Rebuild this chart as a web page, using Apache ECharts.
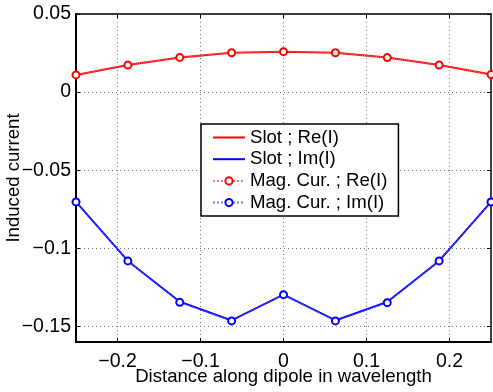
<!DOCTYPE html>
<html>
<head>
<meta charset="utf-8">
<script src="https://cdn.jsdelivr.net/npm/echarts@6/dist/echarts.min.js"></script>
<style>html,body{margin:0;padding:0;background:#fff}#c{width:493px;height:392px}</style>
</head>
<body>
<div id="c"></div>
<script>
var positions = [-0.25, -0.1875, -0.125, -0.0625, 0, 0.0625, 0.125, 0.1875, 0.25];
var slotRe = [0.0110, 0.0173, 0.0222, 0.0252, 0.0259, 0.0252, 0.0221, 0.0173, 0.0112];
var slotIm = [-0.0703, -0.1081, -0.1342, -0.1462, -0.1297, -0.1462, -0.1344, -0.1081, -0.0703];
var magRe = [0.0110, 0.0173, 0.0222, 0.0252, 0.0259, 0.0252, 0.0221, 0.0173, 0.0112];
var magIm = [-0.0703, -0.1081, -0.1346, -0.1465, -0.1297, -0.1465, -0.1348, -0.1081, -0.0703];
var xLabelTicks = [-0.2, -0.1, 0, 0.1, 0.2];
var yTicks = [-0.15, -0.1, -0.05, 0, 0.05];
var seriesNames = ['Slot ; Re(I)', 'Slot ; Im(I)', 'Mag. Cur. ; Re(I)', 'Mag. Cur. ; Im(I)'];
var xTitle = 'Distance along dipole in wavelength';
var yTitle = 'Induced current';

function pairs(xs, ys) { return xs.map(function (x, i) { return [x, ys[i]]; }); }
function fmt(v) { return String(v).replace('-', '\u2212'); }

var FONT = 'Liberation Sans';
var chart = echarts.init(document.getElementById('c'));
var gridLine = { show: true, lineStyle: { color: '#777', width: 1, type: [1, 3] } };
chart.setOption({
  animation: false,
  backgroundColor: '#fff',
  textStyle: { fontFamily: FONT },
  grid: { left: 76, right: 2, top: 14, bottom: 50, containLabel: false, outerBoundsMode: 'none' },
  xAxis: [{
    type: 'value', min: -0.25, max: 0.25, position: 'bottom',
    name: xTitle, nameLocation: 'middle', nameGap: 25, nameMoveOverlap: false,
    nameTextStyle: { fontSize: 18.6, color: '#000', fontFamily: FONT },
    axisLine: { show: true, onZero: false, lineStyle: { color: '#000', width: 2 } },
    axisTick: { show: true, inside: true, length: 4, customValues: xLabelTicks, lineStyle: { color: '#000' } },
    axisLabel: { customValues: xLabelTicks, formatter: fmt, fontSize: 19.5, color: '#000', margin: 10, fontFamily: FONT },
    splitLine: gridLine
  }, {
    type: 'value', min: -0.25, max: 0.25, position: 'top',
    axisLine: { show: true, onZero: false, lineStyle: { color: '#000', width: 1.5 } },
    axisTick: { show: true, inside: true, length: 4, customValues: xLabelTicks, lineStyle: { color: '#000' } },
    axisLabel: { show: false }, splitLine: { show: false }
  }],
  yAxis: [{
    type: 'value', min: -0.16, max: 0.05, position: 'left',
    name: yTitle, nameLocation: 'middle', nameGap: 53, nameRotate: 90, nameMoveOverlap: false,
    nameTextStyle: { fontSize: 18.6, color: '#000', fontFamily: FONT },
    axisLine: { show: true, onZero: false, lineStyle: { color: '#000', width: 2 } },
    axisTick: { show: true, inside: true, length: 4, customValues: yTicks, lineStyle: { color: '#000' } },
    axisLabel: { customValues: yTicks, formatter: fmt, fontSize: 19.5, color: '#000', margin: 5, fontFamily: FONT },
    splitLine: gridLine
  }, {
    type: 'value', min: -0.16, max: 0.05, position: 'right',
    axisLine: { show: true, onZero: false, lineStyle: { color: '#000', width: 1.5 } },
    axisTick: { show: true, inside: true, length: 4, customValues: yTicks, lineStyle: { color: '#000' } },
    axisLabel: { show: false }, splitLine: { show: false }
  }],
  legend: {
    orient: 'vertical', left: 201, top: 124,
    padding: [4, 11, 4, 11],
    itemWidth: 32, itemHeight: 9, itemGap: 2.7,
    borderColor: '#000', borderWidth: 1.5, backgroundColor: '#fff',
    textStyle: { fontSize: 18.6, color: '#000', fontFamily: FONT, lineHeight: 18 },
    data: [
      { name: seriesNames[0], itemStyle: { opacity: 0 } },
      { name: seriesNames[1], itemStyle: { opacity: 0 } },
      { name: seriesNames[2] },
      { name: seriesNames[3] }
    ]
  },
  series: [
    { name: seriesNames[0], type: 'line', data: pairs(positions, slotRe), symbol: 'none', showSymbol: false,
      lineStyle: { color: '#ff0000', width: 2 }, itemStyle: { color: '#ff0000' } },
    { name: seriesNames[1], type: 'line', data: pairs(positions, slotIm), symbol: 'none', showSymbol: false,
      lineStyle: { color: '#0000ff', width: 2 }, itemStyle: { color: '#0000ff' } },
    { name: seriesNames[2], type: 'line', data: pairs(positions, magRe), symbol: 'emptyCircle', symbolSize: 7,
      lineStyle: { color: '#ff7777', width: 1, type: 'dotted' },
      itemStyle: { color: '#ff0000', borderColor: '#ff0000', borderWidth: 2 } },
    { name: seriesNames[3], type: 'line', data: pairs(positions, magIm), symbol: 'emptyCircle', symbolSize: 7,
      lineStyle: { color: '#7777ff', width: 1, type: 'dotted' },
      itemStyle: { color: '#0000ff', borderColor: '#0000ff', borderWidth: 2 } }
  ]
});
</script>
</body>
</html>
